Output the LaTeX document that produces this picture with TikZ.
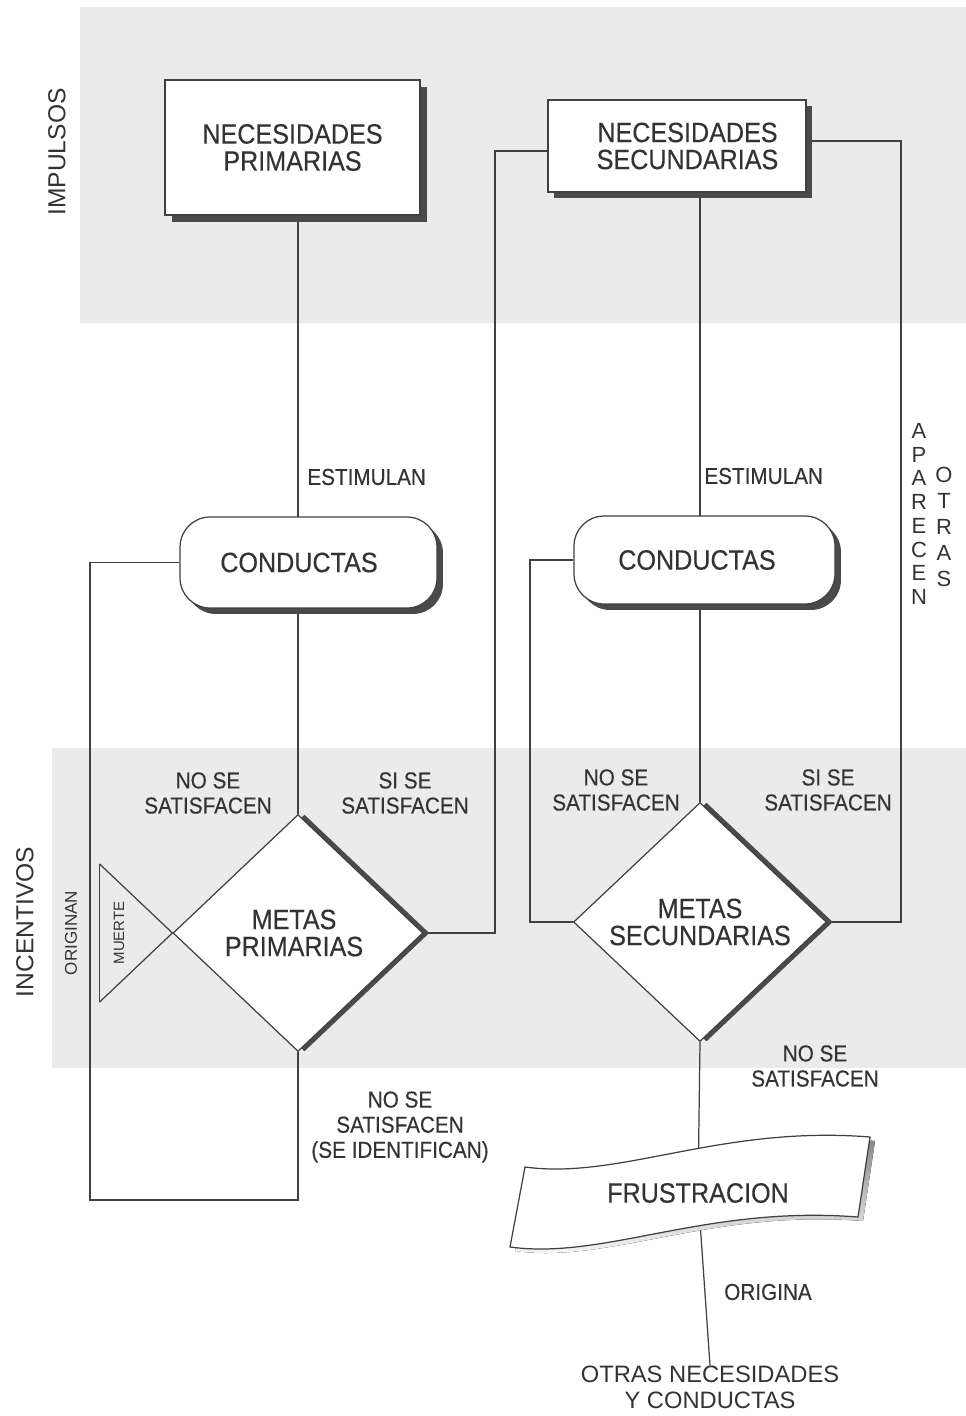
\documentclass[tikz,border=0pt]{standalone}
\usepackage{fontspec}
\setmainfont{Liberation Sans}
\newfontfamily\cf[FakeStretch=0.9,FakeBold=0.3]{Liberation Sans}
\usetikzlibrary{shapes.geometric,shadows,calc}
\definecolor{band}{HTML}{EBEBEB}
\definecolor{ink}{HTML}{333333}
\definecolor{wire}{HTML}{404040}
\definecolor{shade}{HTML}{4A4A4A}
\pgfdeclarelayer{bg}
\pgfdeclarelayer{wires}
\pgfsetlayers{bg,wires,main}
\begin{document}
\begin{tikzpicture}[x=0.02cm,y=-0.02cm,
  line/.style={draw=wire,line width=0.7pt},
  shad/.style={drop shadow={shadow xshift=#1,shadow yshift=-#1,fill=shade,opacity=1}},
  dshad/.style={drop shadow={shadow xshift=#1,shadow yshift=0pt,fill=shade,opacity=1}},
  boxtxt/.style={font=\cf\fontsize{15.9}{15.4}\selectfont,text=ink,align=center},
  needbox/.style={boxtxt,rectangle,draw=wire,line width=0.7pt,fill=white},
  condbox/.style={boxtxt,rectangle,rounded corners=0.6cm,draw=wire,line width=0.7pt,fill=white,minimum width=5.16cm,minimum height=1.8cm,shad=0.12cm},
  goal/.style={boxtxt,diamond,draw=wire,line width=0.7pt,fill=white,inner sep=0pt,dshad=0.13cm},
  lbl/.style={font=\cf\fontsize{13.1}{14.3}\selectfont,text=ink,align=center,inner sep=0pt},
  side/.style={font=\fontsize{14}{14}\selectfont,text=ink,rotate=90,inner sep=0pt},
  stack/.style={font=\fontsize{12.5}{#1}\selectfont,text=ink,align=center,inner sep=0pt}
]
\useasboundingbox (0,0) rectangle (966,1416);
\begin{pgfonlayer}{bg}
  \fill[white] (0,0) rectangle (966,1416);
  \fill[band] (80,7) rectangle (966,323);
  \fill[band] (52,748) rectangle (966,1068);
\end{pgfonlayer}

% side titles
\node[side] (impulsos) at (57,152) {IMPULSOS};
\node[side] (incentivos) at (25,922) {INCENTIVOS};

% main nodes
\node[needbox,minimum width=5.1cm,minimum height=2.7cm,shad=0.14cm] (np) at (292.5,147.5) {NECESIDADES\\PRIMARIAS\hspace*{0pt}};
\node[needbox,minimum width=5.16cm,minimum height=1.84cm,shad=0.12cm] (ns) at (677,146) {\hspace*{0.42cm}NECESIDADES\\\hspace*{0.42cm}SECUNDARIAS};
\node[condbox,minimum width=5.14cm,minimum height=1.82cm] (c1) at (308.5,562.5) {CONDUCTAS\hspace*{0.38cm}};
\node[condbox,minimum width=5.22cm,minimum height=1.76cm] (c2) at (704.5,560) {CONDUCTAS\hspace*{0.3cm}};
\node[goal,minimum width=5cm,minimum height=4.74cm] (d1) at (298,933) {METAS\hspace*{0.16cm}\\PRIMARIAS\hspace*{0.16cm}};
\node[goal,minimum width=5.06cm,minimum height=4.78cm] (d2) at (700,922) {METAS\\SECUNDARIAS};

% frustration (wavy band)
\fill[shade,shift={(5,4)}] (525,1167) .. controls (620,1180) and (720,1125) .. (870,1137) -- (858,1217) .. controls (705,1205) and (605,1260) .. (510,1247) -- cycle;
\filldraw[fill=white,line] (525,1167) .. controls (620,1180) and (720,1125) .. (870,1137) -- (858,1217) .. controls (705,1205) and (605,1260) .. (510,1247) -- cycle;
\node[boxtxt] (fr) at (698,1193) {FRUSTRACION};
\node[lbl,font=\fontsize{13.5}{14.8}\selectfont] (otras) at (710,1387) {OTRAS NECESIDADES\\Y CONDUCTAS};

% triangle MUERTE
\coordinate (ta) at ($(d1.west)!-0.58!(d1.south)$);
\coordinate (tb) at ($(d1.west)!-0.58!(d1.north)$);
\begin{pgfonlayer}{wires}
  \draw[line] (ta) -- (tb);
  \draw[line] (ta) -- (d1.west);
  \draw[line] (tb) -- (d1.west);
\end{pgfonlayer}
\node[side,font=\fontsize{8.5}{8.5}\selectfont] (muerte) at (119,933) {MUERTE};
\node[side,font=\fontsize{9.7}{9.7}\selectfont] (originan) at (71,933) {ORIGINAN};

% connectors
\coordinate (l1) at (90,1200);
\coordinate (r1) at (495,151);
\coordinate (l2) at (530,922);
\coordinate (r2) at (901,141);
\begin{pgfonlayer}{wires}
  \draw[line] (np.south -| d1.north) -- (d1.north);
  \draw[line] (c1.west) -| (l1) -| (d1.south);
  \draw[line] (d1.east) -| (r1) -- (r1 -| ns.west);
  \draw[line] (ns.south -| d2.north) -- (d2.north);
  \draw[line] (c2.west) -| (l2) -- (d2.west);
  \draw[line] (d2.east) -| (r2) -- (r2 -| ns.east);
  \draw[line] (d2.south) -- (fr);
  \draw[line] (fr) -- (otras.north);
\end{pgfonlayer}

% labels
\node[lbl,anchor=west] (est1) at (307,477) {ESTIMULAN};
\node[lbl,anchor=west] (est2) at (704,476) {ESTIMULAN};
\node[lbl] (nos1) at (208,793) {NO SE\\SATISFACEN};
\node[lbl] (sis1) at (405,793) {SI SE\\SATISFACEN};
\node[lbl] (nos2) at (616,790) {NO SE\\SATISFACEN};
\node[lbl] (sis2) at (828,790) {SI SE\\SATISFACEN};
\node[lbl] (nos3) at (400,1127) {NO SE\\SATISFACEN\\(SE IDENTIFICAN)};
\node[lbl] (nos4) at (815,1066) {NO SE\\SATISFACEN};
\node[lbl] (origina) at (768,1292) {ORIGINA};
\node[stack=13.5] (aparecen) at (919,514) {A\\P\\A\\R\\E\\C\\E\\N};
\node[stack=14.8] (otrasv) at (944,527) {O\\T\\R\\A\\S};
\end{tikzpicture}
\end{document}
